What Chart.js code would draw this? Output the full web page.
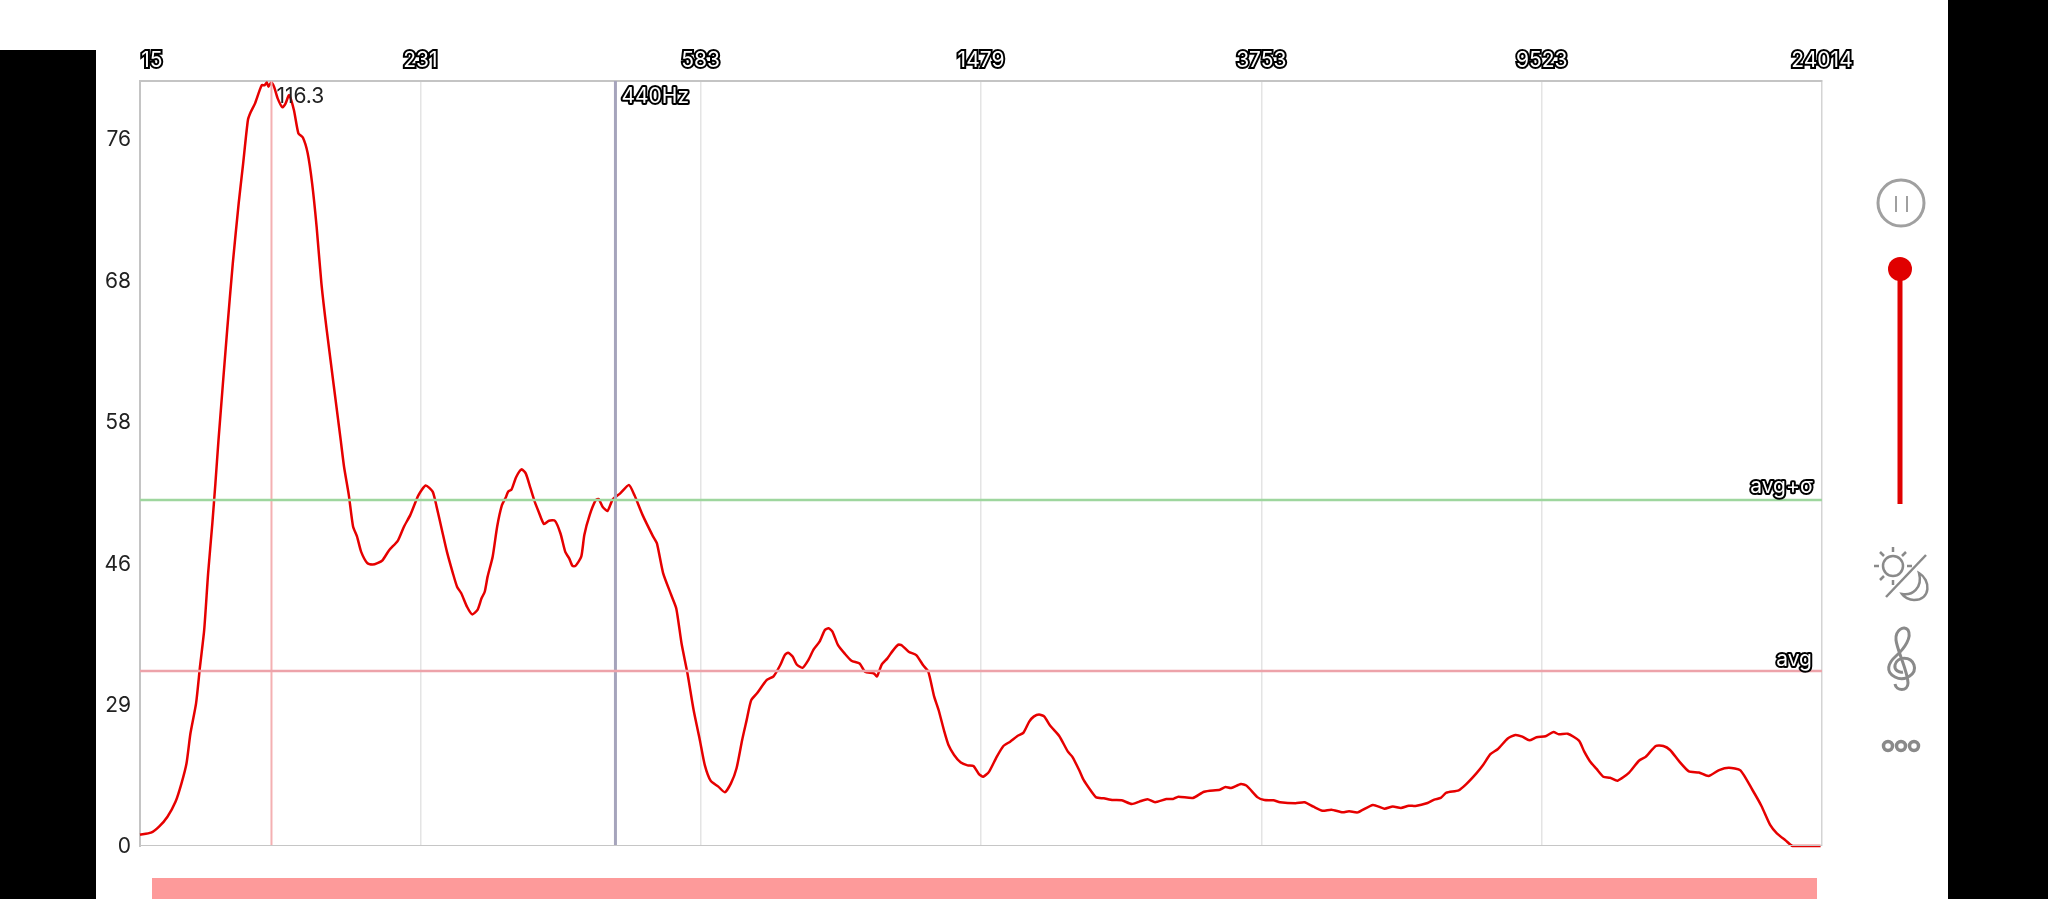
<!DOCTYPE html>
<html lang="en">
<head>
<meta charset="UTF-8">
<title>Spectrum</title>
<script src="https://cdn.jsdelivr.net/npm/chart.js"></script>
<style>
    html, body { margin: 0; background: #fff; overflow: hidden; width: 2048px; height: 899px; }
    #wrap { position: absolute; left: 0; top: 0; width: 2048px; height: 899px; }
    .black { position: absolute; background: #000; }
    #bar { position: absolute; left: 152px; top: 878px; width: 1665px; height: 21px; background: #fd9a9a; }
    #icons { position: absolute; left: 0; top: 0; }
</style>
</head>
<body>
<div id="wrap"><canvas id="spectrum" width="2048" height="899"></canvas></div>
<div class="black" style="left:0;top:50px;width:96px;height:849px"></div>
<div class="black" style="left:1948px;top:0;width:100px;height:899px"></div>
<div id="bar"></div>

<svg id="icons" width="2048" height="899" fill="none" stroke="#8a8a8a">
    <!-- pause -->
    <circle cx="1901" cy="203" r="23" stroke="#a0a0a0" stroke-width="3"/>
    <path d="M1896 196V212M1907 196V212" stroke="#a0a0a0" stroke-width="2"/>
    <!-- volume slider -->
    <path d="M1900 269V504" stroke="#e00000" stroke-width="5"/>
    <circle cx="1900" cy="269" r="12" fill="#e00000" stroke="none"/>
    <!-- sun / moon -->
    <circle cx="1893" cy="566" r="10" stroke-width="2.5"/>
    <path d="M1893 547V552M1880 552L1884 556M1906 552L1902 556M1874 566H1879M1880 580L1884 576M1907 566H1912M1893 580V585" stroke-width="2.5"/>
    <path d="M1926 555L1886 597" stroke-width="2.5"/>
    <path d="M1919 573C1931 580 1931 600 1914 600C1909 600 1904 597 1902 594C1912 596 1923 588 1919 573Z" stroke-width="2.5"/>
    <!-- treble clef -->
    <path d="M1895 684C1896 691 1908 692 1908 683C1908 672 1897 650 1896 640C1895 630 1904 625 1908 630C1912 637 1905 648 1896 656C1888 663 1885 672 1895 677C1905 682 1917 674 1914 665C1911 656 1897 656 1895 665C1894 670 1899 673 1903 672" stroke-width="3"/>
    <!-- more -->
    <circle cx="1888" cy="746" r="4.5" stroke-width="3.5"/>
    <circle cx="1901" cy="746" r="4.5" stroke-width="3.5"/>
    <circle cx="1914" cy="746" r="4.5" stroke-width="3.5"/>
</svg>

<script>
// x: 100 units per labelled division, y: 100 units per labelled level
const xTickLabels = ['15', '231', '583', '1479', '3753', '9523', '24014'];
const yTickLabels = ['0', '29', '46', '58', '68', '76'];

const curveX = [0, 3.9, 6.8, 9.8, 12.7, 14.8, 16.6, 18, 20, 21.4, 22.9, 24.3, 25.8, 26.9, 28,
    31.1, 33.1, 35.2, 36.8, 38.5, 39.5, 41, 43.4, 44.5, 45.2, 45.8, 46.8, 47.8, 49.1, 50.8, 51.9, 53.2, 54.9, 56.5, 58.1, 59.8, 61.4, 63, 64.7, 66.6,
    71.6, 72.8, 74.5, 76, 77.4, 78.9, 81.1, 83, 84.7, 86.5, 88.8, 92, 94.2, 96.4, 99.3, 101.9, 104.4, 105.8, 107.7, 109.5, 111.6, 113.1, 114.6, 116.7, 118.5, 120.4, 121.8, 123, 124, 125.8, 127.4, 129.1, 130.6, 131.3, 132.5, 134.2, 136.1, 137.6, 139.3, 140.8, 142.2, 144.1, 145.9, 148, 150, 151.7, 153.1, 154.3, 155.3, 157.4, 158.5, 160.4, 162.6, 163.6, 165, 166.8, 168.6, 171.3, 174.4, 176.4, 179.3, 183, 184.4, 186.6, 189.5, 191.3, 193.2, 195.3, 197.5, 199.7, 201.5, 203.6, 206.3, 208.6,
    210.8, 212.8, 214.8, 216.4, 218, 220.1, 223.6, 226, 228.4, 230, 231.2, 232.8, 234.2, 236.3, 238.4, 240.3, 242.4, 244.3, 245.6, 247, 249, 251.4, 253.8, 256.7, 258.6, 261.8, 262.9, 264.5, 266.6, 268.5, 270.5, 271.7, 274.2, 276.9, 279.3, 281.2, 283.3, 284.9, 286.9, 288.4, 290.4, 292.8, 295.2, 297.3, 299.2, 300.8, 302.9, 305.6, 308, 310.4, 313, 315.1, 317.2, 318.8, 320.7, 322.6, 324.7, 327.9, 331, 332.6, 335, 336.6, 339, 341.1, 343.8, 347, 350.2, 353.8, 356.5, 359.4, 362.1, 366.1, 368.5, 370.4, 375.6, 379.6, 385.2, 387.2, 389.2, 392.7, 394.7, 398.7, 401.1, 404.3, 406.7, 412.2, 415.4, 418.6, 421.8, 425, 429, 431.3,
    434.4, 439.8, 443.9, 446.9, 449.8, 452.6, 455, 459.3, 461.7, 464, 466, 470.4, 473.1, 476.7, 479.1, 481.7, 484.4, 487.9, 490.6, 493.1, 495.6, 498.2, 501.4, 504.2, 506.1, 509.3, 513.3, 515.2, 517.2, 519.6, 522, 524.4, 527.1, 531.2, 534.7, 537.1, 540.7, 543.4, 545.8, 549, 552.5, 556.1, 559.5, 563.3, 566.8, 570.9, 575.2, 578.4, 581.5, 583.9, 587.1, 589.5, 599.5];
const curveY = [8, 9.4, 13.7, 20.7, 31.4, 44.3, 58.5, 79.7, 100.9, 126.8, 152.8, 192.8, 228, 256.5, 287,
    365, 412, 454.5, 482.8, 513.4, 519, 525, 538, 538, 540, 537, 540, 537, 528.7, 522.4, 525, 531, 520.5, 504, 501, 490, 468.6, 438, 398, 365,
    287, 268, 248, 226, 219, 208, 200, 199, 200, 202, 209, 216, 226, 234, 248, 255, 250.6, 240, 223.5, 208, 193, 183.4, 178.7, 169, 163.8, 167, 175, 180, 190.5, 204.6, 225.8, 241, 247, 250.6, 252, 261, 266.4, 263.5, 253, 243.5, 236.4, 227.7, 230, 230, 221, 208, 203.4, 198, 198, 204.6, 220, 234, 244.7, 245.4, 240, 237, 245, 249.4, 255.3, 248, 234, 219, 214, 193, 177.5, 168, 143, 122, 96, 75, 57, 46, 42, 38,
    44.3, 55, 75, 89, 103, 108, 117.4, 120, 128, 135, 136.7, 134, 128.5, 126, 131.5, 139, 144.5, 152.8, 154, 151.6, 142, 136, 131, 129, 123.3, 122, 120, 128, 132.7, 138, 142.4, 142, 137.4, 135, 128, 123.3, 105.6, 96, 81, 71.4, 64.4, 59, 57, 56.6, 51, 49, 52.6, 63, 70.7, 73.8, 77.8, 80, 88, 91.5, 93, 91.5, 85, 77.8, 66.7, 63, 53.7, 46.7, 39.6, 34.4, 33.7, 32.5, 32.3, 29.7, 31.4, 33, 31, 33.2, 33.2, 34.9, 34, 38.4, 39.8, 41.7, 41, 43.8, 42.7, 34.4, 32.5, 32.3, 30.9, 30.2, 30.9, 27.8, 25, 25.7, 23.8, 24.5,
    23.8, 29, 26.4, 28, 26.9, 28.5, 28.3, 30.4, 32.8, 34, 37.7, 39.4, 43.8, 51.4, 57.3, 65, 68.6, 76, 78.5, 77.3, 74.7, 76.9, 77.6, 80.6, 79, 79.4, 74.5, 66.7, 60, 54.5, 49, 48.3, 46.2, 51.9, 60.3, 63, 70.7, 70.7, 67.9, 60, 52.8, 52, 49.5, 53.7, 55.4, 53.5, 39.6, 28.3, 14.9, 9, 3.8, 0, 0];

const avgLevel = 123.8;
const avgSigmaLevel = 244.7;
const peakX = 46.9;
const refX = 169.6;
const xMax = 600;
const yMax = 541;

const FONT = 'Inter, "Open Sans", sans-serif';

function hLine(y, color, width) {
    return { data: [{ x: 0, y: y }, { x: xMax, y: y }], borderColor: color, borderWidth: width, pointRadius: 0, showLine: true };
}
function vLine(x, color, width) {
    return { data: [{ x: x, y: 0 }, { x: x, y: yMax }], borderColor: color, borderWidth: width, pointRadius: 0, showLine: true };
}

function outlined(ctx, text, x, y) {
    ctx.lineJoin = 'round';
    ctx.lineWidth = 4;
    ctx.strokeStyle = '#000';
    ctx.strokeText(text, x, y);
    ctx.fillStyle = '#fff';
    ctx.fillText(text, x, y);
}

// value labels sitting on the marker lines
const lineLabels = {
    id: 'lineLabels',
    afterDatasetsDraw(chart) {
        const { ctx, scales } = chart;
        const xs = scales.x, ys = scales.y;
        ctx.save();
        ctx.font = '400 21px ' + FONT;
        ctx.textBaseline = 'middle';
        ctx.textAlign = 'left';
        ctx.fillStyle = '#222';
        ctx.fillText('116.3', xs.getPixelForValue(peakX) + 5, 97);
        outlined(ctx, '440Hz', xs.getPixelForValue(refX) + 6, 97);
        ctx.textAlign = 'right';
        outlined(ctx, 'avg+σ', xs.getPixelForValue(xMax) - 9, ys.getPixelForValue(avgSigmaLevel) - 13);
        outlined(ctx, 'avg', xs.getPixelForValue(xMax) - 10, ys.getPixelForValue(avgLevel) - 11);
        ctx.restore();
    }
};

new Chart(document.getElementById('spectrum'), {
    type: 'scatter',
    data: {
        datasets: [
            hLine(0, '#c6c6c6', 2),
            hLine(avgSigmaLevel, '#9ed69e', 2.5),
            hLine(avgLevel, '#eda3aa', 2.5),
            vLine(peakX, '#f4b0b2', 2),
            vLine(refX, '#a6a4bc', 3),
            {
                data: curveX.map((x, i) => ({ x: x, y: curveY[i] })),
                borderColor: '#e60000',
                borderWidth: 2.5,
                tension: 0.2,
                pointRadius: 0,
                showLine: true,
                clip: false
            }
        ]
    },
    options: {
        responsive: false,
        animation: false,
        layout: { padding: { left: 0, right: 226, top: 0, bottom: 53 } },
        plugins: { legend: { display: false }, tooltip: { enabled: false } },
        scales: {
            x: {
                type: 'linear',
                position: 'top',
                min: 0,
                max: xMax,
                afterFit: s => { s.height = 81; },
                border: { color: '#c4c4c4', width: 2 },
                grid: {
                    drawTicks: false,
                    lineWidth: 1.5,
                    color: c => (c.index === 6 ? '#d4d4d4' : '#e4e4e4')
                },
                ticks: {
                    stepSize: 100,
                    autoSkip: false,
                    maxRotation: 0,
                    padding: 8,
                    color: '#fff',
                    textStrokeColor: '#000',
                    textStrokeWidth: 4,
                    font: { family: FONT, size: 21, weight: '400' },
                    callback: (v, i) => (i === 0 ? '    ' : '') + xTickLabels[i]
                }
            },
            y: {
                type: 'linear',
                min: 0,
                max: yMax,
                afterFit: s => { s.width = 140; },
                border: { color: '#c4c4c4', width: 2 },
                grid: { display: false, drawTicks: false },
                ticks: {
                    stepSize: 100,
                    padding: 9,
                    labelOffset: 1,
                    color: '#222',
                    font: { family: FONT, size: 21, weight: '400' },
                    callback: (v, i) => yTickLabels[i]
                }
            }
        }
    },
    plugins: [lineLabels]
});
</script>
</body>
</html>
